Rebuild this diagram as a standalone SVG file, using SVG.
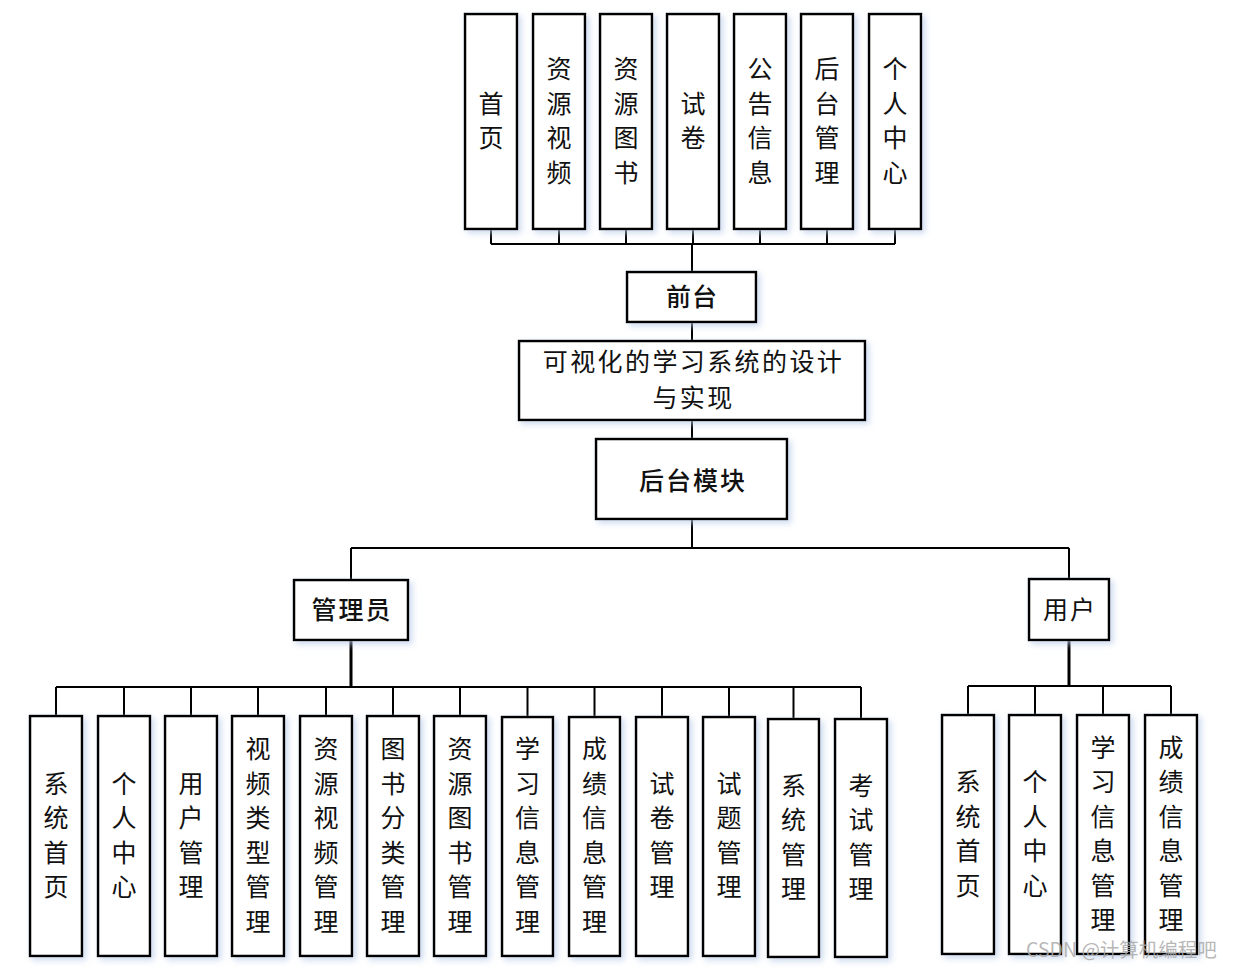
<svg xmlns="http://www.w3.org/2000/svg" width="1233" height="969" viewBox="0 0 1233 969">
<defs>
<filter id="sh" x="-20%" y="-20%" width="140%" height="140%">
<feDropShadow dx="3" dy="3" stdDeviation="3" flood-color="#b9cbe8" flood-opacity="0.7"/>
</filter>
<style>
.box{fill:#fff;stroke:#000;stroke-width:2.5;filter:url(#sh)}
.t{font-family:"Noto Sans CJK SC","Liberation Sans",sans-serif;font-size:25px;fill:#111;text-anchor:middle;dominant-baseline:central;transform:translate(0px,-2.5px)}
.b{font-weight:500;font-size:25px}
.ln{stroke:#000;stroke-width:2;fill:none}
.th{stroke:#000;stroke-width:3;fill:none}
.wm{font-family:"Noto Sans CJK SC","Liberation Sans",sans-serif;font-size:19.5px;fill:#aaa;fill-opacity:0.85}
</style>
</defs>
<rect width="1233" height="969" fill="#fff"/>
<g id="connectors">
<path class="ln" d="M491 229V244M559 229V244M626 229V244M693 229V244M760 229V244M827 229V244M895 229V244M491 244H895M692 244V272"/>
<path class="ln" d="M692 322V341M692 420V439M692 519V548M351 548H1069M351 548V580M1069 548V579"/>
<path class="th" d="M351 640V687M1069 640V686"/>
<path class="ln" d="M56 687H861M56 687V716M124 687V716M191 687V716M258 687V716M326 687V716M393 687V716M460 687V716M527.5 687V717M594.5 687V717M662 687V717M729 687V717M793.5 687V719M861 687V719"/>
<path class="ln" d="M968 686H1171M968 686V715M1035 686V715M1103 686V715M1171 686V715"/>
</g>
<g id="f1"><rect class="box" x="465" y="14" width="52" height="215"/><text class="t" x="491"><tspan x="491" y="104.25">首</tspan><tspan x="491" y="138.75">页</tspan></text></g>
<g id="f2"><rect class="box" x="533" y="14" width="52" height="215"/><text class="t"><tspan x="559" y="69.75">资</tspan><tspan x="559" y="104.25">源</tspan><tspan x="559" y="138.75">视</tspan><tspan x="559" y="173.25">频</tspan></text></g>
<g id="f3"><rect class="box" x="600" y="14" width="52" height="215"/><text class="t"><tspan x="626" y="69.75">资</tspan><tspan x="626" y="104.25">源</tspan><tspan x="626" y="138.75">图</tspan><tspan x="626" y="173.25">书</tspan></text></g>
<g id="f4"><rect class="box" x="667" y="14" width="52" height="215"/><text class="t"><tspan x="693" y="104.25">试</tspan><tspan x="693" y="138.75">卷</tspan></text></g>
<g id="f5"><rect class="box" x="734" y="14" width="52" height="215"/><text class="t"><tspan x="760" y="69.75">公</tspan><tspan x="760" y="104.25">告</tspan><tspan x="760" y="138.75">信</tspan><tspan x="760" y="173.25">息</tspan></text></g>
<g id="f6"><rect class="box" x="801" y="14" width="52" height="215"/><text class="t"><tspan x="827" y="69.75">后</tspan><tspan x="827" y="104.25">台</tspan><tspan x="827" y="138.75">管</tspan><tspan x="827" y="173.25">理</tspan></text></g>
<g id="f7"><rect class="box" x="869" y="14" width="52" height="215"/><text class="t"><tspan x="895" y="69.75">个</tspan><tspan x="895" y="104.25">人</tspan><tspan x="895" y="138.75">中</tspan><tspan x="895" y="173.25">心</tspan></text></g>
<g id="qiantai"><rect class="box" x="627" y="272" width="129" height="50"/><text class="t b" x="692" y="297" letter-spacing="1">前台</text></g>
<g id="root"><rect class="box" x="519" y="341" width="346" height="79"/><text class="t" x="693.5" y="362" letter-spacing="2.4">可视化的学习系统的设计</text><text class="t" x="693.5" y="398" letter-spacing="2.4">与实现</text></g>
<g id="houtai"><rect class="box" x="596" y="439" width="191" height="80"/><text class="t b" x="693" y="481" letter-spacing="2">后台模块</text></g>
<g id="admin"><rect class="box" x="294" y="580" width="114" height="60"/><text class="t b" x="352" y="610" letter-spacing="2">管理员</text></g>
<g id="user"><rect class="box" x="1029" y="579" width="80" height="61"/><text class="t" x="1070" y="610" letter-spacing="2">用户</text></g>
<g id="a1"><rect class="box" x="30" y="716" width="52" height="240"/><text class="t"><tspan x="56" y="784.25">系</tspan><tspan x="56" y="818.75">统</tspan><tspan x="56" y="853.25">首</tspan><tspan x="56" y="887.75">页</tspan></text></g>
<g id="a2"><rect class="box" x="98" y="716" width="52" height="240"/><text class="t"><tspan x="124" y="784.25">个</tspan><tspan x="124" y="818.75">人</tspan><tspan x="124" y="853.25">中</tspan><tspan x="124" y="887.75">心</tspan></text></g>
<g id="a3"><rect class="box" x="165" y="716" width="52" height="240"/><text class="t"><tspan x="191" y="784.25">用</tspan><tspan x="191" y="818.75">户</tspan><tspan x="191" y="853.25">管</tspan><tspan x="191" y="887.75">理</tspan></text></g>
<g id="a4"><rect class="box" x="232" y="716" width="52" height="240"/><text class="t"><tspan x="258" y="749.75">视</tspan><tspan x="258" y="784.25">频</tspan><tspan x="258" y="818.75">类</tspan><tspan x="258" y="853.25">型</tspan><tspan x="258" y="887.75">管</tspan><tspan x="258" y="922.25">理</tspan></text></g>
<g id="a5"><rect class="box" x="300" y="716" width="52" height="240"/><text class="t"><tspan x="326" y="749.75">资</tspan><tspan x="326" y="784.25">源</tspan><tspan x="326" y="818.75">视</tspan><tspan x="326" y="853.25">频</tspan><tspan x="326" y="887.75">管</tspan><tspan x="326" y="922.25">理</tspan></text></g>
<g id="a6"><rect class="box" x="367" y="716" width="52" height="240"/><text class="t"><tspan x="393" y="749.75">图</tspan><tspan x="393" y="784.25">书</tspan><tspan x="393" y="818.75">分</tspan><tspan x="393" y="853.25">类</tspan><tspan x="393" y="887.75">管</tspan><tspan x="393" y="922.25">理</tspan></text></g>
<g id="a7"><rect class="box" x="434" y="716" width="52" height="240"/><text class="t"><tspan x="460" y="749.75">资</tspan><tspan x="460" y="784.25">源</tspan><tspan x="460" y="818.75">图</tspan><tspan x="460" y="853.25">书</tspan><tspan x="460" y="887.75">管</tspan><tspan x="460" y="922.25">理</tspan></text></g>
<g id="a8"><rect class="box" x="502" y="717" width="51" height="239"/><text class="t"><tspan x="527.5" y="749.75">学</tspan><tspan x="527.5" y="784.25">习</tspan><tspan x="527.5" y="818.75">信</tspan><tspan x="527.5" y="853.25">息</tspan><tspan x="527.5" y="887.75">管</tspan><tspan x="527.5" y="922.25">理</tspan></text></g>
<g id="a9"><rect class="box" x="569" y="717" width="51" height="239"/><text class="t"><tspan x="594.5" y="749.75">成</tspan><tspan x="594.5" y="784.25">绩</tspan><tspan x="594.5" y="818.75">信</tspan><tspan x="594.5" y="853.25">息</tspan><tspan x="594.5" y="887.75">管</tspan><tspan x="594.5" y="922.25">理</tspan></text></g>
<g id="a10"><rect class="box" x="636" y="717" width="52" height="239"/><text class="t"><tspan x="662" y="784.25">试</tspan><tspan x="662" y="818.75">卷</tspan><tspan x="662" y="853.25">管</tspan><tspan x="662" y="887.75">理</tspan></text></g>
<g id="a11"><rect class="box" x="703" y="717" width="52" height="239"/><text class="t"><tspan x="729" y="784.25">试</tspan><tspan x="729" y="818.75">题</tspan><tspan x="729" y="853.25">管</tspan><tspan x="729" y="887.75">理</tspan></text></g>
<g id="a12"><rect class="box" x="768" y="719" width="51" height="238"/><text class="t"><tspan x="793.5" y="786.25">系</tspan><tspan x="793.5" y="820.75">统</tspan><tspan x="793.5" y="855.25">管</tspan><tspan x="793.5" y="889.75">理</tspan></text></g>
<g id="a13"><rect class="box" x="835" y="719" width="52" height="238"/><text class="t"><tspan x="861" y="786.25">考</tspan><tspan x="861" y="820.75">试</tspan><tspan x="861" y="855.25">管</tspan><tspan x="861" y="889.75">理</tspan></text></g>
<g id="u1"><rect class="box" x="942" y="715" width="52" height="239"/><text class="t"><tspan x="968" y="782.75">系</tspan><tspan x="968" y="817.25">统</tspan><tspan x="968" y="851.75">首</tspan><tspan x="968" y="886.25">页</tspan></text></g>
<g id="u2"><rect class="box" x="1009" y="715" width="52" height="239"/><text class="t"><tspan x="1035" y="782.75">个</tspan><tspan x="1035" y="817.25">人</tspan><tspan x="1035" y="851.75">中</tspan><tspan x="1035" y="886.25">心</tspan></text></g>
<g id="u3"><rect class="box" x="1077" y="715" width="52" height="239"/><text class="t"><tspan x="1103" y="748.25">学</tspan><tspan x="1103" y="782.75">习</tspan><tspan x="1103" y="817.25">信</tspan><tspan x="1103" y="851.75">息</tspan><tspan x="1103" y="886.25">管</tspan><tspan x="1103" y="920.75">理</tspan></text></g>
<g id="u4"><rect class="box" x="1145" y="715" width="52" height="239"/><text class="t"><tspan x="1171" y="748.25">成</tspan><tspan x="1171" y="782.75">绩</tspan><tspan x="1171" y="817.25">信</tspan><tspan x="1171" y="851.75">息</tspan><tspan x="1171" y="886.25">管</tspan><tspan x="1171" y="920.75">理</tspan></text></g>
<text class="wm" x="1026" y="957">CSDN @计算机编程吧</text>
</svg>
